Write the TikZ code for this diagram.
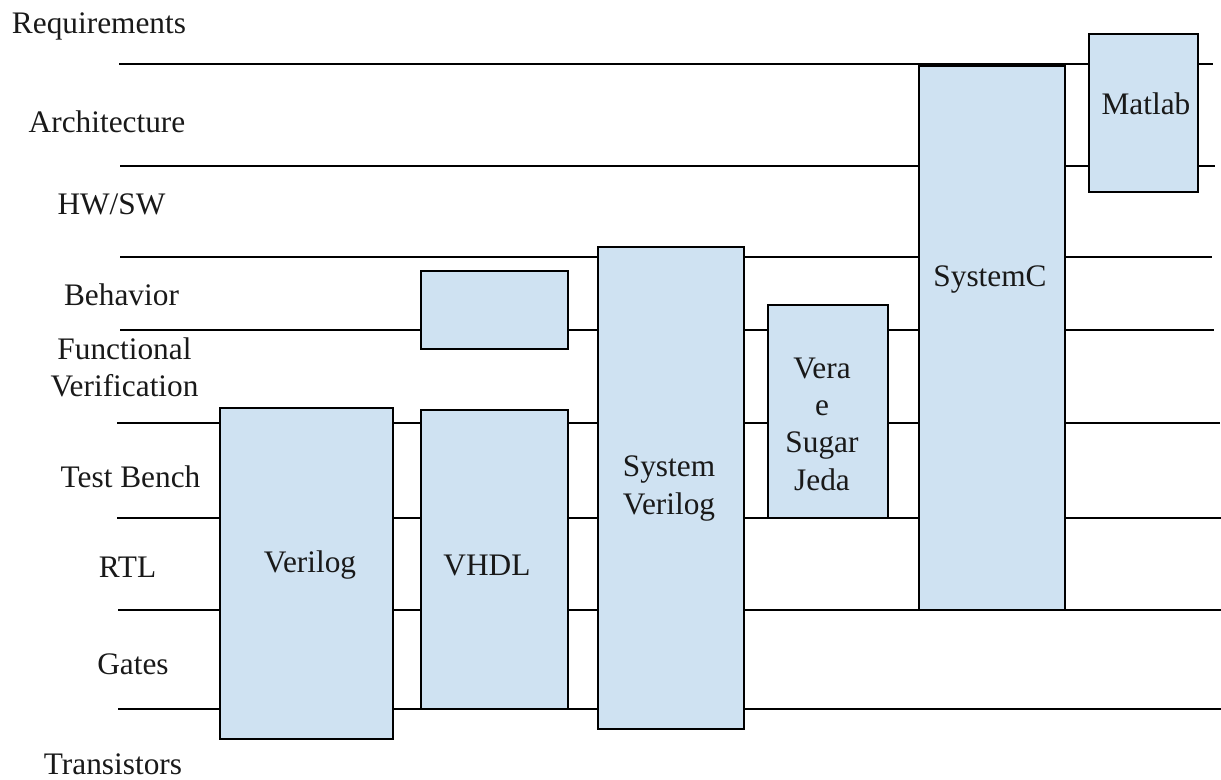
\documentclass[tikz,border=0pt]{standalone}
\usepackage{fontspec}
\setmainfont{Liberation Serif}
\definecolor{boxfill}{RGB}{207,226,242}
\begin{document}
\begin{tikzpicture}[x=0.75pt,y=-0.75pt,
  level/.style={draw=black,line width=1.5pt},
  box/.style={draw=black,fill=boxfill,line width=1.5pt,rectangle,anchor=north west,inner sep=0pt,outer sep=0pt},
  txt/.style={anchor=base,inner sep=0pt,font=\fontsize{23.5}{27.8}\selectfont,align=center,text=black!90}]
\useasboundingbox (0,0) rectangle (1221,780);
% level lines
\draw[level] (119,64) -- (1213,64);
\draw[level] (120,166) -- (1215,166);
\draw[level] (120,257) -- (1212,257);
\draw[level] (120,330) -- (1214,330);
\draw[level] (117,423) -- (1220,423);
\draw[level] (117,518) -- (1221,518);
\draw[level] (118,610) -- (1221,610);
\draw[level] (118,709) -- (1221,709);
% boxes
\node[box,minimum width=129.75pt,minimum height=248.25pt] (verilog) at (220,408) {};
\node[box,minimum width=110.25pt,minimum height=224.25pt] (vhdl) at (421,410) {};
\node[box,minimum width=110.25pt,minimum height=58.5pt] (behbox) at (421,271) {};
\node[box,minimum width=109.5pt,minimum height=361.5pt] (sv) at (598,247) {};
\node[box,minimum width=90pt,minimum height=159.75pt] (vera) at (768,305) {};
\node[box,minimum width=109.5pt,minimum height=408pt] (systemc) at (919,66) {};
\node[box,minimum width=81.75pt,minimum height=118.5pt] (matlab) at (1089,34) {};
% box texts (anchor base = baseline of the last line)
\node[txt] (tverilog) at (310,572) {Verilog};
\node[txt] (tvhdl) at (487,575) {VHDL};
\node[txt] (tsv) at (669,514) {System\\Verilog};
\node[txt] (tvera) at (822,490) {Vera\\e\\Sugar\\Jeda};
\node[txt] (tsystemc) at (990,287) {SystemC};
\node[txt] (tmatlab) at (1146,115) {Matlab};
% level labels
\node[txt] (lreq) at (99,34) {Requirements};
\node[txt] (larch) at (107,133) {Architecture};
\node[txt] (lhw) at (111.5,215) {HW/SW};
\node[txt] (lbeh) at (121.5,306) {Behavior};
\node[txt] (lfun) at (124.5,397) {Functional\\Verification};
\node[txt] (ltb) at (130.5,487) {Test Bench};
\node[txt] (lrtl) at (127.5,577) {RTL};
\node[txt] (lgates) at (133,674) {Gates};
\node[txt] (ltrans) at (113,774) {Transistors};
\end{tikzpicture}
\end{document}
